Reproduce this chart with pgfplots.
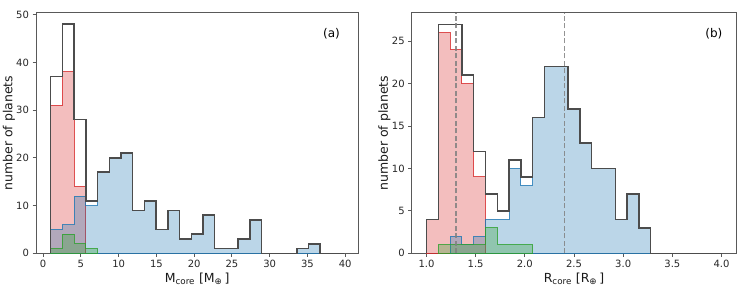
\documentclass[border=0pt]{standalone}
\usepackage{fontspec}
\setmainfont{DejaVu Sans}
\usepackage{pgfplots}
\pgfplotsset{compat=1.18}
\definecolor{tabred}{HTML}{D62728}
\definecolor{tabblue}{HTML}{1F77B4}
\definecolor{tabgreen}{HTML}{2CA02C}
\definecolor{spine}{gray}{0.35}
\definecolor{steph}{gray}{0.3}
\pgfplotsset{
  hist/.style={
    scale only axis,
    axis line style={spine, line width=0.9pt},
    tick style={spine, line width=0.8pt},
    tick align=outside,
    major tick length=3.5pt,
    xtick pos=left, ytick pos=left,
    ticklabel style={font=\fontsize{10}{12}\selectfont, text=black!85},
    /pgf/number format/assume math mode=true,
    label style={font=\fontsize{12.5}{15}\selectfont, text=black!90},
    ylabel={number of planets},
    ylabel style={at={(axis description cs:-0.0838,0.5)}, anchor=center},
    xlabel style={at={(axis description cs:0.5,-0.107)}, anchor=center},
    ymin=0,
    clip=false,
  },
  redh/.style={const plot, fill=tabred, fill opacity=0.3, draw=tabred, draw opacity=0.8, line width=1pt},
  blueh/.style={const plot, fill=tabblue, fill opacity=0.3, draw=tabblue, draw opacity=0.8, line width=1pt},
  greenh/.style={const plot, fill=tabgreen, fill opacity=0.3, draw=tabgreen, draw opacity=0.8, line width=1pt},
  allh/.style={const plot, draw=steph, line width=1.5pt, line join=miter},
}
\begin{document}
\begin{tikzpicture}[x=1pt,y=1pt]
\useasboundingbox (0,0) rectangle (748,290);
% ---------- panel (a)
\begin{axis}[hist,
  at={(36pt,36.7pt)}, anchor=south west,
  width=322.3pt, height=240.5pt,
  xmin=-0.94, xmax=41.74, ymax=50.4,
  xtick={0,5,...,40}, ytick={0,10,...,50},
  xlabel={M\textsubscript{core} {[}M\textsubscript{⊕}\,{]}},
]
\addplot[redh] coordinates {(1,0)(1,31)(2.552,38)(4.104,14)(5.656,14)(5.656,0)} \closedcycle;
\addplot[blueh] coordinates {(1,0)(1,5)(2.552,6)(4.104,12)(5.656,10)(7.208,17)(8.76,20)(10.312,21)(11.864,9)(13.416,11)(14.968,5)(16.52,9)(18.072,3)(19.624,4)(21.176,8)(22.728,1)(24.28,1)(25.832,3)(27.384,7)(28.936,0)(30.488,0)(32.04,0)(33.592,1)(35.144,2)(36.696,2)(36.696,0)} \closedcycle;
\addplot[greenh] coordinates {(1,0)(1,1)(2.552,4)(4.104,2)(5.656,1)(7.208,1)(7.208,0)} \closedcycle;
\addplot[allh] coordinates {(1,0)(1,37)(2.552,48)(4.104,28)(5.656,11)(7.208,17)(8.76,20)(10.312,21)(11.864,9)(13.416,11)(14.968,5)(16.52,9)(18.072,3)(19.624,4)(21.176,8)(22.728,1)(24.28,1)(25.832,3)(27.384,7)(28.936,0)(30.488,0)(32.04,0)(33.592,1)(35.144,2)(36.696,0)(38.248,0)(39.8,0)};
\node[font=\fontsize{12}{14}\selectfont] at (rel axis cs:0.917,0.915) {(a)};
\end{axis}
% ---------- panel (b)
\begin{axis}[hist,
  at={(411.7pt,36.7pt)}, anchor=south west,
  width=324.6pt, height=240.5pt,
  xmin=0.85, xmax=4.15, ymax=28.35,
  xtick={1.0,1.5,...,4.0}, ytick={0,5,...,25},
  xticklabel style={/pgf/number format/.cd, fixed, fixed zerofill, precision=1},
  xlabel={R\textsubscript{core} {[}R\textsubscript{⊕}\,{]}},
]
\addplot[redh] coordinates {(1,0)(1,4)(1.12,26)(1.24,24)(1.36,20)(1.48,9)(1.60,9)(1.60,0)} \closedcycle;
\addplot[blueh] coordinates {(1.24,0)(1.24,2)(1.36,1)(1.48,2)(1.60,4)(1.72,4)(1.84,10)(1.96,8)(2.08,16)(2.20,22)(2.32,22)(2.44,17)(2.56,13)(2.68,10)(2.80,10)(2.92,4)(3.04,7)(3.16,3)(3.28,3)(3.28,0)} \closedcycle;
\addplot[greenh] coordinates {(1.12,0)(1.12,1)(1.24,1)(1.36,1)(1.48,1)(1.60,3)(1.72,1)(1.84,1)(1.96,1)(2.08,1)(2.08,0)} \closedcycle;
\addplot[allh] coordinates {(1,0)(1,4)(1.12,27)(1.24,27)(1.36,21)(1.48,12)(1.60,7)(1.72,5)(1.84,11)(1.96,9)(2.08,16)(2.20,22)(2.32,22)(2.44,17)(2.56,13)(2.68,10)(2.80,10)(2.92,4)(3.04,7)(3.16,3)(3.28,0)(4.0,0)};
\addplot[gray, draw opacity=0.85, line width=1.2pt, dash pattern=on 5pt off 2.5pt] coordinates {(1.3,0)(1.3,28.35)};
\addplot[gray, draw opacity=0.85, line width=1.2pt, dash pattern=on 5pt off 2.5pt] coordinates {(2.4,0)(2.4,28.35)};
\node[font=\fontsize{12}{14}\selectfont] at (rel axis cs:0.931,0.915) {(b)};
\end{axis}
\end{tikzpicture}
\end{document}
